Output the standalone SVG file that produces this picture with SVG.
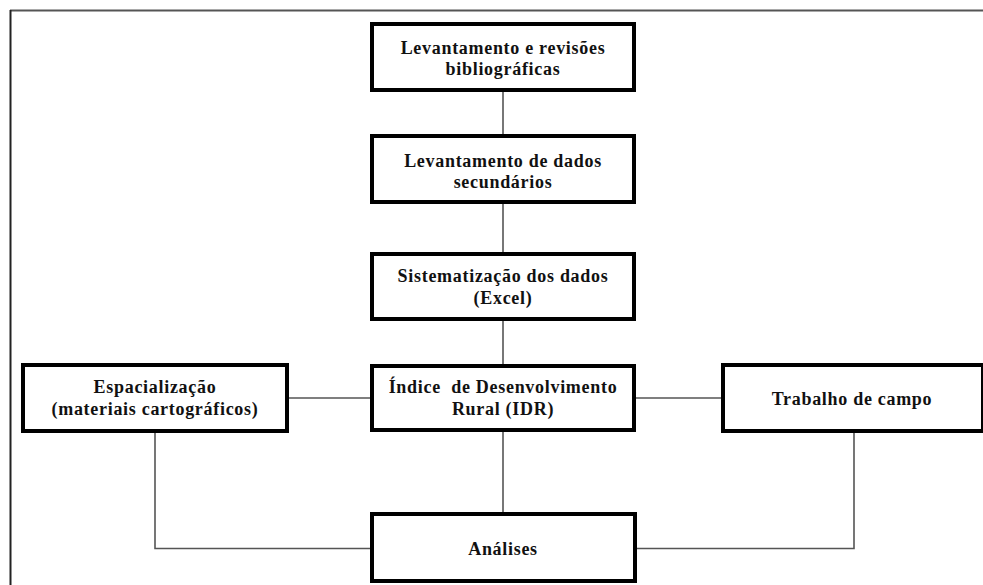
<svg xmlns="http://www.w3.org/2000/svg" width="983" height="585" viewBox="0 0 983 585">
<style>
.box{fill:#fff;stroke:#000;stroke-width:4}
.t{font-family:"Liberation Serif","Times New Roman",serif;font-weight:bold;font-size:18px;letter-spacing:0.7px;fill:#111;text-anchor:middle}
.c{fill:none;stroke:#555;stroke-width:1.6}
</style>
<rect width="983" height="585" fill="#fff"/>
<g id="frame">
<line x1="10" y1="10.5" x2="983" y2="10.5" stroke="#555" stroke-width="2"/>
<line x1="10.5" y1="10" x2="10.5" y2="585" stroke="#222" stroke-width="2"/>
</g>
<g id="connectors">
<line class="c" x1="503" y1="90" x2="503" y2="136"/>
<line class="c" x1="503" y1="202" x2="503" y2="254"/>
<line class="c" x1="503" y1="319" x2="503" y2="366"/>
<line class="c" x1="503" y1="430" x2="503" y2="514"/>
<line class="c" x1="287" y1="398" x2="372" y2="398"/>
<line class="c" x1="634" y1="398" x2="723" y2="398"/>
<polyline class="c" points="155,431 155,548.5 372,548.5"/>
<polyline class="c" points="854,431 854,548.5 635,548.5"/>
</g>
<g id="n1"><rect class="box" x="372" y="24" width="262" height="66"/><text class="t" x="503" y="54">Levantamento e revisões</text><text class="t" x="503" y="75">bibliográficas</text></g>
<g id="n2"><rect class="box" x="372" y="136" width="262" height="66"/><text class="t" x="503" y="167">Levantamento de dados</text><text class="t" x="503" y="188">secundários</text></g>
<g id="n3"><rect class="box" x="372" y="254" width="262" height="65"/><text class="t" x="503" y="282">Sistematização dos dados</text><text class="t" x="503" y="304">(Excel)</text></g>
<g id="n4"><rect class="box" x="372" y="366" width="262" height="64"/><text class="t" x="503" y="393" xml:space="preserve">Índice  de Desenvolvimento</text><text class="t" x="503" y="415">Rural (IDR)</text></g>
<g id="n5"><rect class="box" x="23" y="365" width="264" height="66"/><text class="t" x="155" y="393">Espacialização</text><text class="t" x="155" y="415">(materiais cartográficos)</text></g>
<g id="n6"><rect class="box" x="723" y="365" width="260" height="66"/><text class="t" x="852" y="405">Trabalho de campo</text></g>
<g id="n7"><rect class="box" x="372" y="514" width="263" height="67"/><text class="t" x="503" y="555">Análises</text></g>
</svg>
